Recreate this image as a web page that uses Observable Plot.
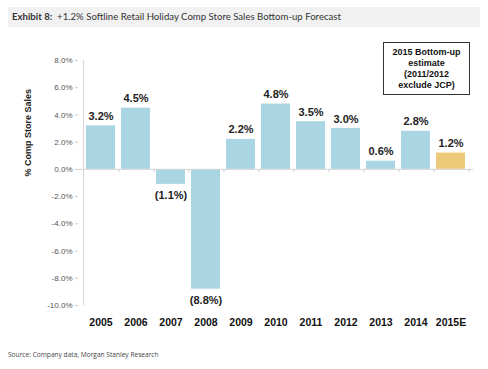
<!DOCTYPE html>
<html><head><meta charset="utf-8">
<script src="https://cdn.jsdelivr.net/npm/d3@7"></script>
<script src="https://cdn.jsdelivr.net/npm/@observablehq/plot@0.6"></script>
<style>
body{margin:0;background:#fff;font-family:Arial,"Liberation Sans",sans-serif;}
#wrap{position:relative;width:488px;height:369px;}
#title{position:absolute;left:8px;top:7px;width:472px;height:20px;background:#f1f1f1;font-family:Lato,"Open Sans",sans-serif;font-size:9.6px;line-height:20px;color:#333;padding-left:4px;box-sizing:border-box;}
#chart{position:absolute;left:0;top:36px;}
#note{position:absolute;left:383px;top:42px;width:87px;height:53px;border:1px solid #333;box-sizing:border-box;font-weight:bold;font-size:9px;line-height:11px;text-align:center;padding-top:4px;color:#111;}
#src{position:absolute;left:8px;top:350px;font-family:"Open Sans",sans-serif;font-size:6.6px;color:#444;}
</style></head>
<body><div id="wrap">
<div id="title"><b>Exhibit 8:</b>&nbsp; +1.2% Softline Retail Holiday Comp Store Sales Bottom-up Forecast</div>
<div id="chart"></div>
<div id="note">2015 Bottom-up<br>estimate<br>(2011/2012<br>exclude JCP)</div>
<div id="src">Source: Company data, Morgan Stanley Research</div>
</div>
<script>
const years = ["2005","2006","2007","2008","2009","2010","2011","2012","2013","2014","2015E"];
const values = [3.2, 4.5, -1.1, -8.8, 2.2, 4.8, 3.5, 3.0, 0.6, 2.8, 1.2];
const yTicks = [8, 6, 4, 2, 0, -2, -4, -6, -8, -10];
const yTitle = "% Comp Store Sales";
const data = years.map((y, i) => ({year: y, value: values[i], estimate: y.endsWith("E")}));
const fmtLabel = v => v < 0 ? `(${Math.abs(v).toFixed(1)}%)` : `${v.toFixed(1)}%`;
const step = (488 - 78 - 15) / years.length;

const chart = Plot.plot({
  width: 488, height: 300,
  marginLeft: 78, marginRight: 15, marginTop: 24, marginBottom: 31,
  style: {fontFamily: "Arial, 'Liberation Sans', sans-serif", background: "transparent"},
  x: {domain: years, padding: 0.17, label: null},
  y: {domain: [-10, 8], label: null},
  marks: [
    Plot.axisY({ticks: yTicks, tickFormat: d => d.toFixed(1) + "%", tickSize: 3, tickPadding: 3, fontSize: 8, color: "#555", stroke: "#ccc"}),
    Plot.ruleX([0], {x: () => years[0], y1: -10, y2: 8, dx: -step / 2 + 0.5, stroke: "#d6d6d6"}),
    Plot.barY(data, {x: "year", y: "value", fill: d => d.estimate ? "#edc97a" : "#a9d6e2"}),
    Plot.ruleY([0], {stroke: "#d6d6d6"}),
    Plot.ruleX(years, {x: d => d, y1: 0, y2: -0.25, dx: step / 2, stroke: "#ccc"}),
    Plot.axisX({tickSize: 0, tickPadding: 13, fontSize: 10.5, fontWeight: "bold", color: "#111"}),
    Plot.text(data, {x: "year", y: "value", text: d => fmtLabel(d.value), lineAnchor: "bottom",
      fontSize: 11, fontWeight: "bold", fill: "#222", filter: d => d.value >= 0, dy: -6}),
    Plot.text(data, {x: "year", y: "value", text: d => fmtLabel(d.value), lineAnchor: "top",
      fontSize: 11, fontWeight: "bold", fill: "#222", filter: d => d.value < 0, dy: 7}),
    Plot.text([2.7], {y: d => d, text: () => yTitle, frameAnchor: "left", textAnchor: "middle", dx: -50, rotate: -90,
      fontSize: 9, fontWeight: "bold", fill: "#222"})
  ]
});
document.getElementById("chart").appendChild(chart);
</script>
</body></html>
